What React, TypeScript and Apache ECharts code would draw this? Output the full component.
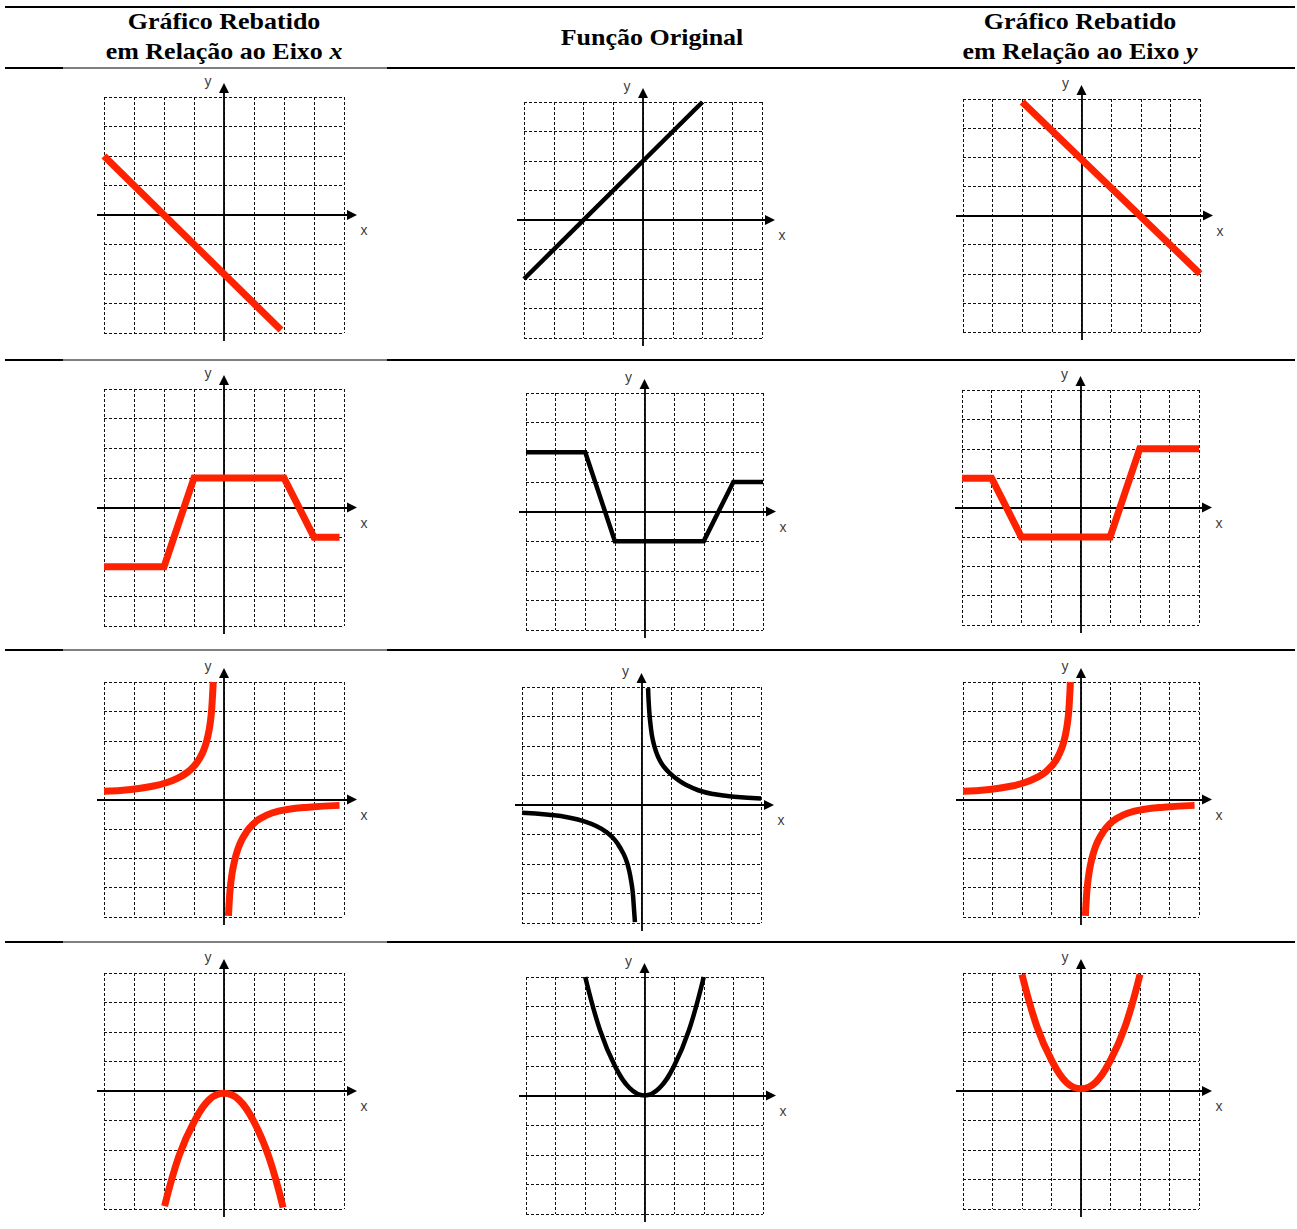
import React, { useEffect, useRef } from "react";
import * as echarts from "echarts";

const PAGE_W = 1297;
const PAGE_H = 1229;

const RED = "#ff2200";
const BLACK = "#000000";

// Column headers (the {m|…} token is the italic axis letter)
const headerTitles = ["Gráfico Rebatido", "Função Original", "Gráfico Rebatido"];
const headerSubtitles = ["em Relação ao Eixo {m|x}", "", "em Relação ao Eixo {m|y}"];
const axisNames = ["x", "y"];

// Shared value range of every small plot
const AXIS_MIN = -4;
const AXIS_MAX = 4;
const AXIS_STEP = 1;

// Row 1 – straight line
const lineReflectX = [[-4, 2], [1.9, -3.9]];
const lineOriginal = [[-4, -2], [2, 4]];
const lineReflectY = [[-2, 3.9], [4, -2]];

// Row 2 – piecewise linear
const stepReflectX = [[-4, -2], [-2, -2], [-1, 1], [2, 1], [3, -1], [3.85, -1]];
const stepOriginal = [[-4, 2], [-2, 2], [-1, -1], [2, -1], [3, 1], [4, 1]];
const stepReflectY = [[-4, 1], [-3, 1], [-2, -1], [1, -1], [2, 2], [4, 2]];

// Row 3 – hyperbola, two branches each
const hypReflectXLeft = [[-4, 0.28], [-3.1, 0.34], [-2.4, 0.45], [-1.9, 0.58], [-1.5, 0.75], [-1.2, 0.94], [-0.97, 1.17], [-0.8, 1.42], [-0.67, 1.7], [-0.57, 2.02], [-0.49, 2.4], [-0.43, 2.85], [-0.39, 3.4], [-0.36, 4.0]];
const hypReflectXRight = [[0.15, -3.96], [0.18, -3.4], [0.22, -2.9], [0.28, -2.45], [0.36, -2.05], [0.46, -1.7], [0.58, -1.4], [0.74, -1.12], [0.95, -0.86], [1.22, -0.64], [1.6, -0.46], [2.1, -0.34], [2.8, -0.26], [3.85, -0.2]];
const hypOriginalLeft = [[-4, -0.26], [-3.1, -0.33], [-2.4, -0.43], [-1.9, -0.56], [-1.5, -0.72], [-1.2, -0.9], [-0.95, -1.12], [-0.77, -1.36], [-0.63, -1.6], [-0.52, -1.85], [-0.43, -2.15], [-0.36, -2.5], [-0.3, -2.9], [-0.26, -3.4], [-0.22, -3.97]];
const hypOriginalRight = [[0.22, 3.96], [0.24, 3.5], [0.27, 3.05], [0.31, 2.65], [0.36, 2.3], [0.43, 2.0], [0.52, 1.72], [0.63, 1.48], [0.77, 1.27], [0.95, 1.08], [1.2, 0.87], [1.5, 0.68], [1.9, 0.5], [2.4, 0.37], [3.1, 0.28], [4.0, 0.22]];
const hypReflectYLeft = [[-4, 0.28], [-3.1, 0.34], [-2.4, 0.45], [-1.9, 0.58], [-1.5, 0.75], [-1.2, 0.94], [-0.97, 1.17], [-0.8, 1.42], [-0.67, 1.7], [-0.57, 2.02], [-0.49, 2.4], [-0.43, 2.85], [-0.39, 3.4], [-0.36, 4.0]];
const hypReflectYRight = [[0.15, -3.96], [0.18, -3.4], [0.22, -2.9], [0.28, -2.45], [0.36, -2.05], [0.46, -1.7], [0.58, -1.4], [0.74, -1.12], [0.95, -0.86], [1.22, -0.64], [1.6, -0.46], [2.1, -0.34], [2.8, -0.26], [3.85, -0.2]];

// Row 4 – parabola
const parReflectX = [[-1.98, -3.9], [-1.5, -2.2], [-1, -1.05], [-0.5, -0.3], [0, -0.08], [0.5, -0.3], [1, -1.05], [1.5, -2.25], [1.97, -3.95]];
const parOriginal = [[-2, 4], [-1.5, 2.2], [-1, 1], [-0.5, 0.25], [0, 0], [0.5, 0.25], [1, 1], [1.5, 2.2], [2, 4]];
const parReflectY = [[-2, 3.95], [-1.5, 2.2], [-1, 1.05], [-0.5, 0.3], [0, 0.08], [0.5, 0.3], [1, 1.05], [1.5, 2.2], [2, 3.95]];

// Plot boxes on the page: [left, top, right, bottom], row by row
const PANEL_BOXES = [
  [104, 97, 344, 333], [524, 102, 762, 338], [963, 99, 1200, 332],
  [104, 389, 344, 626], [526, 393, 763, 630], [962, 390, 1199, 625],
  [104, 682, 344, 917], [522, 687, 761, 923], [963, 682, 1199, 917],
  [104, 973, 344, 1209], [526, 977, 763, 1214], [963, 973, 1199, 1209],
];

type Curve = { data: number[][]; color: string; smooth?: number };

const SMOOTH = 0.5;

const PANEL_CURVES: Curve[][] = [
  [{ data: lineReflectX, color: RED }],
  [{ data: lineOriginal, color: BLACK }],
  [{ data: lineReflectY, color: RED }],
  [{ data: stepReflectX, color: RED }],
  [{ data: stepOriginal, color: BLACK }],
  [{ data: stepReflectY, color: RED }],
  [{ data: hypReflectXLeft, color: RED, smooth: SMOOTH }, { data: hypReflectXRight, color: RED, smooth: SMOOTH }],
  [{ data: hypOriginalLeft, color: BLACK, smooth: SMOOTH }, { data: hypOriginalRight, color: BLACK, smooth: SMOOTH }],
  [{ data: hypReflectYLeft, color: RED, smooth: SMOOTH }, { data: hypReflectYRight, color: RED, smooth: SMOOTH }],
  [{ data: parReflectX, color: RED, smooth: 0.4 }],
  [{ data: parOriginal, color: BLACK, smooth: 0.4 }],
  [{ data: parReflectY, color: RED, smooth: 0.4 }],
];

const COLUMN_CENTERS = [224, 652, 1080];
const RULE_YS = [68, 360, 650, 942];

function buildOption() {
  const grid: any[] = [];
  const xAxis: any[] = [];
  const yAxis: any[] = [];
  const series: any[] = [];

  const splitLine = { show: true, lineStyle: { color: "#111", width: 1, type: [3, 2] } };
  const hidden = { show: false };

  PANEL_BOXES.forEach((box, i) => {
    const [l, t, r, b] = box;
    const cellW = (r - l) / (AXIS_MAX - AXIS_MIN);
    const cellH = (b - t) / (AXIS_MAX - AXIS_MIN);
    grid.push({ left: l, top: t, width: r - l, height: b - t, containLabel: false });
    const axisBase = {
      type: "value",
      gridIndex: i,
      min: AXIS_MIN,
      max: AXIS_MAX,
      interval: AXIS_STEP,
      axisLine: hidden,
      axisTick: hidden,
      axisLabel: hidden,
      splitLine,
    };
    xAxis.push({ ...axisBase });
    yAxis.push({ ...axisBase });

    // axes run a little past the dashed box and end in an arrow head
    const xFrom = AXIS_MIN - 7 / cellW;
    const xEnd = AXIS_MAX + 8 / cellW;
    const xTip = AXIS_MAX + 13 / cellW;
    const yFrom = AXIS_MIN - 8 / cellH;
    const yEnd = AXIS_MAX + 9 / cellH;
    const yTip = AXIS_MAX + 14 / cellH;

    series.push({
      type: "lines",
      coordinateSystem: "cartesian2d",
      xAxisIndex: i,
      yAxisIndex: i,
      clip: false,
      silent: true,
      z: 3,
      symbol: ["none", "triangle"],
      symbolSize: [7, 10],
      lineStyle: { color: BLACK, width: 1.8, opacity: 1, curveness: 0 },
      data: [
        { coords: [[xFrom, 0], [xEnd, 0]] },
        { coords: [[0, yFrom], [0, yEnd]] },
      ],
    });

    series.push({
      type: "scatter",
      xAxisIndex: i,
      yAxisIndex: i,
      clip: false,
      silent: true,
      symbolSize: 0,
      z: 3,
      label: {
        show: true,
        position: "inside",
        color: "#000",
        fontFamily: "Liberation Sans",
        fontSize: 14,
      },
      data: [
        { value: [xTip, 0], label: { formatter: axisNames[0], offset: [7, 15] } },
        { value: [0, yTip], label: { formatter: axisNames[1], offset: [-16, -2] } },
      ],
    });

    PANEL_CURVES[i].forEach((c) => {
      series.push({
        type: "line",
        xAxisIndex: i,
        yAxisIndex: i,
        data: c.data,
        showSymbol: false,
        symbol: "none",
        smooth: c.smooth ?? false,
        clip: false,
        silent: true,
        z: 4,
        lineStyle: {
          color: c.color,
          width: c.color === RED ? 7 : 4.5,
          join: "miter",
          cap: "butt",
        },
      });
    });
  });

  const graphic: any[] = [];
  // table rules
  graphic.push({ type: "line", shape: { x1: 5, y1: 7, x2: 1295, y2: 7 }, style: { stroke: BLACK, lineWidth: 2 } });
  RULE_YS.forEach((y) => {
    graphic.push({ type: "line", shape: { x1: 5, y1: y, x2: 63, y2: y }, style: { stroke: BLACK, lineWidth: 2 } });
    graphic.push({ type: "line", shape: { x1: 63, y1: y, x2: 387, y2: y }, style: { stroke: BLACK, lineWidth: 1 } });
    graphic.push({ type: "line", shape: { x1: 387, y1: y, x2: 1295, y2: y }, style: { stroke: BLACK, lineWidth: 2 } });
  });

  const headFont = {
    fontFamily: "Liberation Serif",
    fontWeight: "bold",
    fontSize: 23,
  };
  const HEAD_SCALE_X = 1.13;
  const textStyle = { ...headFont, fill: BLACK, align: "center", verticalAlign: "middle", textAlign: "center", textVerticalAlign: "middle" };
  headerTitles.forEach((title, c) => {
    const sub = headerSubtitles[c];
    const cx = COLUMN_CENTERS[c];
    if (sub) {
      graphic.push({ type: "text", x: cx, y: 21, scaleX: HEAD_SCALE_X, style: { text: title, ...textStyle } });
      graphic.push({
        type: "text",
        x: cx,
        y: 51,
        scaleX: HEAD_SCALE_X,
        style: { text: sub, ...textStyle, rich: { m: { ...headFont, fontStyle: "italic", fill: BLACK } } },
      });
    } else {
      graphic.push({ type: "text", x: cx, y: 37, scaleX: HEAD_SCALE_X, style: { text: title, ...textStyle } });
    }
  });

  return {
    animation: false,
    backgroundColor: "#ffffff",
    grid,
    xAxis,
    yAxis,
    series,
    graphic,
  };
}

export default function App() {
  const ref = useRef<HTMLDivElement>(null);

  useEffect(() => {
    if (!ref.current) return;
    const chart = echarts.init(ref.current, undefined, { renderer: "svg", width: PAGE_W, height: PAGE_H });
    chart.setOption(buildOption() as any);
    return () => chart.dispose();
  }, []);

  return (
    <div
      ref={ref}
      style={{ position: "absolute", left: 0, top: 0, width: PAGE_W, height: PAGE_H, background: "#fff" }}
    />
  );
}
